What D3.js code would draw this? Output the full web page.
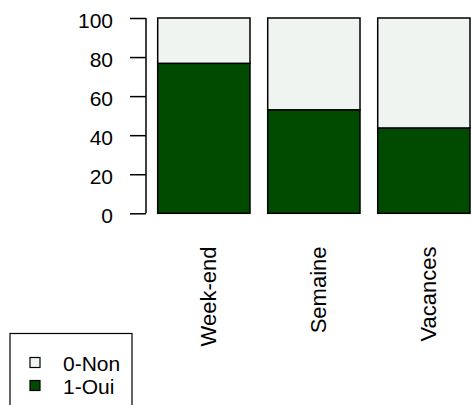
<!DOCTYPE html>
<html>
<head>
<meta charset="utf-8">
<script src="https://cdn.jsdelivr.net/npm/d3@7"></script>
<style>
  html, body { margin: 0; padding: 0; background: #fff; }
  svg { display: block; }
  text { font-family: "Liberation Sans", Arial, sans-serif; fill: #000; }
</style>
</head>
<body>
<svg id="chart" width="471" height="405"></svg>
<script>
const categories = ["Week-end", "Semaine", "Vacances"];
const seriesNames = ["0-Non", "1-Oui"];
const oui = [76.8, 53.0, 43.7];
const non = [23.2, 47.0, 56.3];
const yTicks = [0, 20, 40, 60, 80, 100];
const colors = {"0-Non": "#F0F4F0", "1-Oui": "#004B00"};

const svg = d3.select("#chart");
const fs = 21;

const table = categories.map((c, i) => ({cat: c, "1-Oui": oui[i], "0-Non": non[i]}));
const stack = d3.stack().keys(["1-Oui", "0-Non"]);
const layers = stack(table);

const x = d3.scaleBand().domain(categories).range([157.7, 470]).paddingInner(0.161).paddingOuter(0);
const y = d3.scaleLinear().domain([0, 100]).range([213.3, 18]);

// bars
layers.forEach(layer => {
  svg.append("g").selectAll("rect").data(layer).join("rect")
    .attr("x", d => x(d.data.cat))
    .attr("width", x.bandwidth())
    .attr("y", d => y(d[1]))
    .attr("height", d => y(d[0]) - y(d[1]))
    .attr("fill", colors[layer.key])
    .attr("stroke", "#000")
    .attr("stroke-width", 1.5);
});

// y axis
const yAxis = d3.axisLeft(y).tickValues(yTicks).tickSize(16).tickPadding(17);
const gy = svg.append("g").attr("transform", "translate(146,0)").call(yAxis);
gy.select(".domain").attr("stroke-width", 1.5).attr("d", `M0,${y(0)}V${y(100)}`);
gy.selectAll(".tick line").attr("stroke-width", 1.5);
gy.selectAll(".tick text").attr("font-size", fs).attr("font-family", "Liberation Sans, Arial, sans-serif").attr("dy", "0.45em");

// x labels (rotated)
svg.append("g").selectAll("text").data(categories).join("text")
  .attr("transform", d => `translate(${x(d) + x.bandwidth()/2 + 12},246.5) rotate(-90)`)
  .attr("text-anchor", "end")
  .attr("font-size", 22)
  .text(d => d);

// legend
const lg = svg.append("g");
lg.append("rect").attr("x", 10).attr("y", 333.5).attr("width", 122).attr("height", 100)
  .attr("fill", "none").attr("stroke", "#000").attr("stroke-width", 1.2);
seriesNames.forEach((s, i) => {
  const cy = 362.5 + i * 23;
  lg.append("rect").attr("x", 30).attr("y", cy - 5).attr("width", 10).attr("height", 10)
    .attr("fill", colors[s]).attr("stroke", "#000").attr("stroke-width", 1.2);
  lg.append("text").attr("x", 63).attr("y", cy + 8).attr("font-size", fs).text(s);
});
</script>
</body>
</html>
